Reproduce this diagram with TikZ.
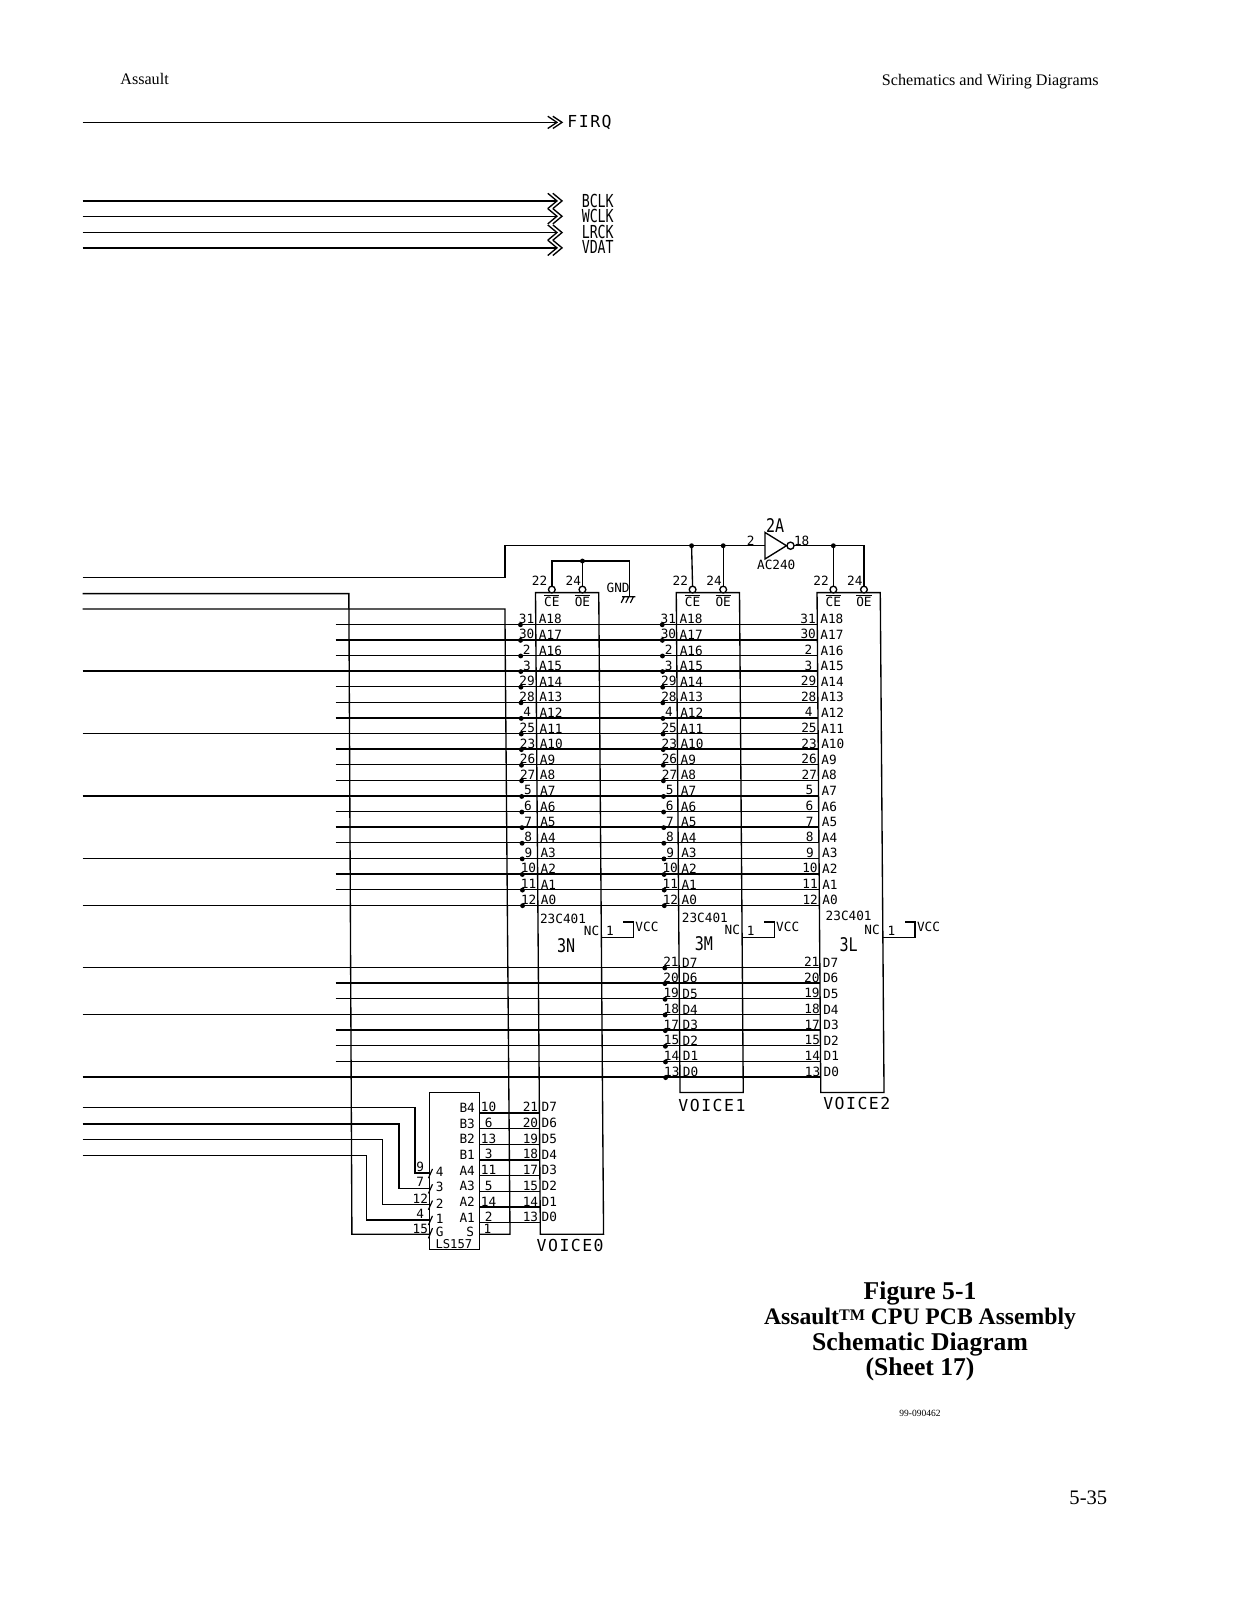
\documentclass[tikz,border=0pt]{standalone}
\usepackage{fontspec}
\setmainfont{Liberation Serif}
\newfontfamily\pinfam{DejaVu Sans Mono}
\newfontfamily\narrowfam[FakeStretch=0.74]{DejaVu Sans Mono}
\newfontfamily\bigfam[FakeStretch=0.8]{DejaVu Sans Mono}
\newfontfamily\widefam[LetterSpace=9]{DejaVu Sans Mono}
\newcommand{\ovl}[1]{\vbox{\hrule height .4pt\kern .7pt\hbox{#1}}}
\tikzset{
  wire/.style={line width=.75pt,line join=miter},
  tlab/.style={inner sep=0pt,outer sep=0pt,anchor=center,text=black},
  pinlab/.style={tlab,font=\pinfam\fontsize{7.1}{8}\selectfont},
  siglab/.style={tlab,font=\narrowfam\fontsize{10}{10}\selectfont},
  biglab/.style={tlab,font=\bigfam\fontsize{10.5}{11}\selectfont},
  widelab/.style={tlab,font=\widefam\fontsize{9.2}{10}\selectfont},
  titlelab/.style={tlab,font=\bfseries\fontsize{14.3}{15}\selectfont},
  headlab/.style={tlab,font=\fontsize{9}{11}\selectfont},
  bubble/.style={wire,fill=white},
  tick/.style={line width=.65pt},
  junc/.style={fill=black}
}
\newcommand{\sigtip}[2]{%
  \draw[wire] (537,#1-#2) -- (546,#1) -- (537,#1+#2) (542,#1-#2) -- (551,#1) -- (542,#1+#2);}
\begin{document}
\begin{tikzpicture}[x=0.02cm,y=-0.02cm]
\useasboundingbox (0,0) rectangle (1212.7,1568.6);
\fill[white] (0,0) rectangle (1212.7,1568.6);
% page text
\node[headlab,anchor=west] (hl) at (118,77) {Assault};
\node[headlab,anchor=east] (hr) at (1077,80) {Schematics and Wiring Diagrams};
\node[titlelab] (t1) at (902,1268) {Figure 5-1};
\node[titlelab,font=\bfseries\fontsize{13.2}{15}\selectfont] (t2) at (902,1293) {Assault{\fontsize{9}{10}\selectfont\raisebox{.25em}{TM}} CPU PCB Assembly};
\node[titlelab] (t3) at (902,1318) {Schematic Diagram};
\node[titlelab] (t4) at (902,1342) {(Sheet 17)};
\node[tlab,font=\fontsize{5.3}{6}\selectfont] (dn) at (902,1386) {99-090462};
\node[tlab,font=\fontsize{11.5}{12}\selectfont] (pg) at (1067,1468) {5-35};
% signals at the top
\foreach \n/\y/\h in {f/120/6,b/197/7.5,w/212/7.5,l/228/7.5,v/243/7.5}{
  \coordinate (\n s) at (81,\y);
  \coordinate (\n e) at (546,\y);
  \draw[wire] (\n s) -- (\n e);
  \sigtip{\y}{\h}
}
\node[widelab] (firq) at (578,120) {FIRQ};
\node[siglab] (bclk) at (586,197) {BCLK};
\node[siglab] (wclk) at (586,212) {WCLK};
\node[siglab] (lrck) at (586,227) {LRCK};
\node[siglab] (vdat) at (586,242) {VDAT};
% chips
\foreach \c/\xl/\yb in {0/525/1210,1/663/1071,2/801/1071}{
  \pgfmathsetmacro\sk{(\yb-581)*.0075}
  \coordinate (c\c tl) at (\xl,581);
  \coordinate (c\c tr) at (\xl+62,581);
  \coordinate (c\c br) at (\xl+62+\sk,\yb);
  \coordinate (c\c bl) at (\xl+\sk,\yb);
  \draw[wire] (c\c tl) -- (c\c tr) -- (c\c br) -- (c\c bl) -- cycle;
  \coordinate (ce\c) at (\xl+16,575);
  \coordinate (oe\c) at (\xl+46,575);
  \node[pinlab] (p22\c) at (\xl+4,569) {22};
  \node[pinlab] (p24\c) at (\xl+37,569) {24};
  \node[pinlab] (lce\c) at (\xl+16,589) {\ovl{CE}};
  \node[pinlab] (loe\c) at (\xl+46,589) {\ovl{OE}};
}
% address rows
\foreach \i/\p/\a/\sx in {0/31/A18/329,1/30/A17/329,2/2/A16/329,3/3/A15/81,4/29/A14/329,5/28/A13/329,6/4/A12/329,7/25/A11/81,8/23/A10/329,9/26/A9/329,10/27/A8/329,11/5/A7/81,12/6/A6/329,13/7/A5/329,14/8/A4/329,15/9/A3/81,16/10/A2/329,17/11/A1/329,18/12/A0/81}{
  \pgfmathsetmacro\y{612+\i*15.3}
  \pgfmathsetmacro\s{(\y-581)*.0075}
  \coordinate (as\i) at (\sx,\y);
  \coordinate (ae\i) at (801+\s,\y);
  \draw[wire] (as\i) -- (ae\i);
  \coordinate (ad\i) at (510+\s,\y+.5);
  \coordinate (bd\i) at (649+\s,\y+.5);
  \fill[junc] (ad\i) circle (2.4);
  \fill[junc] (bd\i) circle (2.4);
  \node[pinlab] (ap\i) at (516+\s,\y-5.5) {\p};
  \node[pinlab] (bp\i) at (655+\s,\y-5.5) {\p};
  \node[pinlab] (cp\i) at (792+\s,\y-5.5) {\p};
  \node[pinlab,anchor=west] (an\i) at (528+\s,\y-5) {\a};
  \node[pinlab,anchor=west] (bn\i) at (666+\s,\y-5) {\a};
  \node[pinlab,anchor=west] (cn\i) at (804+\s,\y-5) {\a};
}
% data rows
\foreach \i/\p/\a/\sx in {0/21/D7/81,1/20/D6/329,2/19/D5/329,3/18/D4/81,4/17/D3/329,5/15/D2/329,6/14/D1/329,7/13/D0/81}{
  \pgfmathsetmacro\y{948.5+\i*15.35}
  \pgfmathsetmacro\s{(\y-581)*.0075}
  \coordinate (ds\i) at (\sx,\y);
  \coordinate (de\i) at (801+\s,\y);
  \draw[wire] (ds\i) -- (de\i);
  \coordinate (dd\i) at (649+\s,\y+.5);
  \fill[junc] (dd\i) circle (2.4);
  \node[pinlab] (dp\i) at (655+\s,\y-5.5) {\p};
  \node[pinlab] (dq\i) at (793+\s,\y-5.5) {\p};
  \node[pinlab,anchor=west] (dn\i) at (666+\s,\y-5) {\a};
  \node[pinlab,anchor=west] (dm\i) at (804+\s,\y-5) {\a};
}
% chip texts and NC stubs
\foreach \c/\tx/\ty/\nx/\ny/\q/\qx/\qy/\vx in {0/552/901/580/913/3N/555/927/590,1/691/900/718/912/3M/690/925/728,2/832/898/855/912/3L/832/926/866}{
  \node[pinlab] (ty\c) at (\tx,\ty) {23C401};
  \node[pinlab] (nc\c) at (\nx,\ny) {NC};
  \node[biglab] (nm\c) at (\qx,\qy) {\q};
  \coordinate (st\c) at (\vx,919);
  \coordinate (su\c) at (\vx+31,919);
  \coordinate (sv\c) at (\vx+31,904);
  \coordinate (sw\c) at (\vx+21,904);
  \draw[wire] (st\c) -- (su\c) -- (sv\c) -- (sw\c);
  \node[pinlab] (on\c) at (\vx+8,913) {1};
  \node[pinlab,anchor=west] (vc\c) at (\vx+33,909) {VCC};
}
\node[widelab] (vo0) at (559,1221) {VOICE0};
\node[widelab] (vo1) at (698,1084) {VOICE1};
\node[widelab] (vo2) at (840,1082) {VOICE2};
% enable bus and inverter
\coordinate (bus0) at (81,566);
\coordinate (bus1) at (495,566);
\coordinate (bus2) at (495,535);
\coordinate (invin) at (750,535);
\coordinate (invtip) at (771,535);
\coordinate (bubc) at (775,535);
\coordinate (invout) at (778.5,535);
\coordinate (busr) at (847,535);
\coordinate (j1) at (678,535);
\coordinate (j2) at (709,535);
\coordinate (j3) at (817,535);
\draw[wire] (bus0) -- (bus1) -- (bus2) -- (invin);
\draw[wire] (invin |- 0,522) -- (invtip) -- (invin |- 0,548) -- cycle;
\draw[bubble] (bubc) circle (3.5);
\draw[wire] (invout) -- (busr) -- (oe2);
\draw[wire] (j1) -- (ce1);
\draw[wire] (j2) -- (oe1);
\draw[wire] (j3) -- (ce2);
\foreach \j in {j1,j2,j3}{\fill[junc] (\j) circle (2.4);}
\node[biglab] (n2a) at (760,515) {2A};
\node[pinlab] (n2) at (736,530) {2};
\node[pinlab] (n18) at (786,530) {18};
\node[pinlab] (nac) at (761,554) {AC240};
% ground of chip 0
\coordinate (g0) at (541,550);
\coordinate (g1) at (571,550);
\coordinate (g2) at (617,550);
\coordinate (g3) at (617,585);
\draw[wire] (ce0) -- (g0) -- (g2) -- (g3);
\draw[wire] (g1) -- (oe0);
\fill[junc] (g1) circle (2.4);
\node[pinlab] (gnd) at (606,576) {GND};
\draw[tick] (610,585) -- (623,585) (612,585) -- (609,591) (616.5,585) -- (613.5,591) (621,585) -- (618,591);
% pin bubbles
\foreach \c in {0,1,2}{
  \draw[bubble] (ce\c) ++(0,3) circle (3.3);
  \draw[bubble] (oe\c) ++(0,3) circle (3.3);
}
% select and strobe lines
\coordinate (ga) at (81,582);
\coordinate (gb) at (342,582);
\coordinate (gc) at (345,1210);
\coordinate (gd) at (421,1210);
\draw[wire] (ga) -- (gb) -- (gc) -- (gd);
\coordinate (sa) at (81,597);
\coordinate (sb) at (495,597);
\coordinate (sc) at (500,1210);
\coordinate (sd) at (470,1210);
\draw[wire] (sa) -- (sb) -- (sc) -- (sd);
% LS157
\coordinate (ltl) at (421,1071);
\coordinate (ltr) at (470,1071);
\coordinate (lbr) at (470,1225);
\coordinate (lbl) at (421,1225);
\draw[wire] (ltl) -- (ltr) -- (lbr) -- (lbl) -- cycle;
\node[pinlab,font=\pinfam\fontsize{6.8}{8}\selectfont] (ls) at (445,1220) {LS157};
\foreach \i/\b/\p/\q/\d in {0/B4/10/21/D7,1/B3/6/20/D6,2/B2/13/19/D5,3/B1/3/18/D4,4/A4/11/17/D3,5/A3/5/15/D2,6/A2/14/14/D1,7/A1/2/13/D0}{
  \pgfmathsetmacro\y{1091+\i*15.4}
  \coordinate (mo\i) at (470,\y);
  \coordinate (mi\i) at (529,\y);
  \draw[wire] (mo\i) -- (mi\i);
  \node[pinlab] (mb\i) at (458,\y-5) {\b};
  \node[pinlab] (mp\i) at (479,\y-5.5) {\p};
  \node[pinlab] (mq\i) at (520,\y-5.5) {\q};
  \node[pinlab,anchor=west] (md\i) at (531,\y-5.5) {\d};
}
\node[pinlab] (ms) at (461,1208) {S};
\node[pinlab] (mg) at (431,1208) {G};
\node[pinlab] (g15) at (412,1205) {15};
\node[pinlab] (s1) at (478,1205) {1};
% LS157 inputs
\foreach \i/\ya/\xb/\yb/\p/\q in {0/1086/407/1150/9/4,1/1102/391/1165/7/3,2/1117/375/1181/12/2,3/1133/359/1196/4/1}{
  \coordinate (la\i) at (81,\ya);
  \coordinate (lb\i) at (\xb,\ya);
  \coordinate (lc\i) at (\xb,\yb);
  \coordinate (ld\i) at (421,\yb);
  \draw[wire] (la\i) -- (lb\i) -- (lc\i) -- (ld\i);
  \draw[tick] (424,\yb-4) -- (420,\yb+5);
  \node[pinlab] (lp\i) at (412,\yb-6) {\p};
  \node[pinlab] (lq\i) at (431,\yb-1) {\q};
}
\draw[tick] (424,1204) -- (420,1214);
\end{tikzpicture}
\end{document}
